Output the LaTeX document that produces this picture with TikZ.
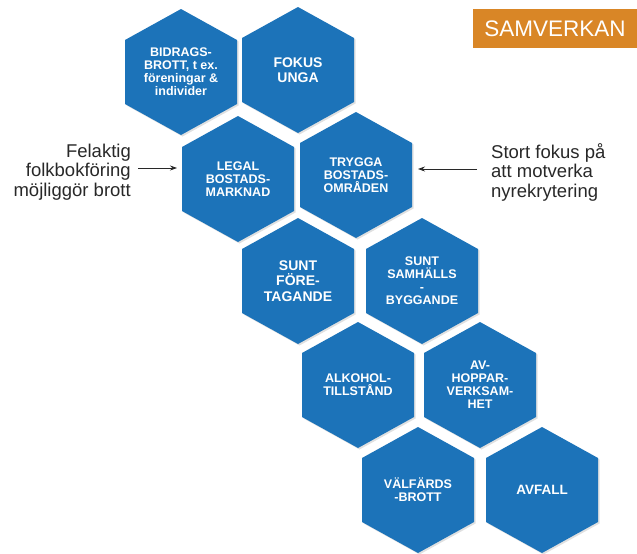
\documentclass[tikz,border=0pt]{standalone}
\usepackage{fontspec}
\setmainfont{Liberation Sans}
\usetikzlibrary{arrows.meta}
\definecolor{hexblue}{RGB}{28,115,185}
\definecolor{samorange}{RGB}{217,134,38}
\definecolor{sidegray}{RGB}{40,40,40}
\tikzset{
  hexfill/.style={fill=hexblue},
  hexshadow/.style={fill=black,opacity=0.12},
  hextext/.style={text=white,font=\bfseries\fontsize{12.5}{13}\selectfont,align=center,inner sep=0pt},
  hexbig/.style={font=\bfseries\fontsize{14}{15.5}\selectfont},
  sidetext/.style={text=sidegray,font=\fontsize{18.5}{19.5}\selectfont,inner sep=0pt},
  arr/.style={draw=sidegray,line width=0.8pt,-{Stealth[length=7pt,width=5pt]}},
}
\newcommand\hexcell[5][]{%
  \fill[hexshadow] (#3-56+1.5,#4-32+1.5) -- (#3+1.5,#4-63+1.5) -- (#3+56+1.5,#4-32+1.5) -- (#3+56+1.5,#4+32+1.5) -- (#3+1.5,#4+63+1.5) -- (#3-56+1.5,#4+32+1.5) -- cycle;
  \fill[hexfill] (#3-56,#4-32) -- (#3,#4-63) -- (#3+56,#4-32) -- (#3+56,#4+32) -- (#3,#4+63) -- (#3-56,#4+32) -- cycle;
  \node[hextext,#1] (#2) at (#3,#4) {#5};
}
\begin{document}
\begin{tikzpicture}[x=1pt,y=-1pt]
\useasboundingbox (0,0) rectangle (637,554);
% row 1
\hexcell{bidrag}{181}{72}{BIDRAGS-\\BROTT, t ex.\\föreningar \&\\individer}
\hexcell[hexbig]{fokus}{298}{70}{FOKUS\\UNGA}
% row 2
\hexcell{legal}{238}{179}{LEGAL\\BOSTADS-\\MARKNAD}
\hexcell{trygga}{356}{175}{TRYGGA\\BOSTADS-\\OMRÅDEN}
% row 3
\hexcell[hexbig]{sunt}{298}{281}{SUNT\\FÖRE-\\TAGANDE}
\hexcell{samh}{422}{281}{SUNT\\SAMHÄLLS\\-\\BYGGANDE}
% row 4
\hexcell{alko}{358}{385}{ALKOHOL-\\TILLSTÅND}
\hexcell{avhopp}{480}{385}{AV-\\HOPPAR-\\VERKSAM-\\HET}
% row 5
\hexcell{valf}{418}{490}{VÄLFÄRDS\\-BROTT}
\hexcell[font=\bfseries\fontsize{13.5}{15}\selectfont]{avfall}{542}{490}{AVFALL}
% SAMVERKAN
\node[fill=samorange,text=white,font=\fontsize{22.5}{24}\selectfont,minimum width=164pt,minimum height=39pt,inner sep=0pt] (samv) at (555,28.5) {SAMVERKAN};
% side texts
\node[sidetext,align=right,anchor=east] (felaktig) at (131,172) {Felaktig\\folkbokföring\\möjliggör brott};
\node[sidetext,align=left,anchor=west] (stort) at (491,172) {Stort fokus på\\att motverka\\nyrekrytering};
\coordinate (a1s) at (138,168);
\coordinate (a1e) at (177,168);
\coordinate (a2s) at (477,169);
\coordinate (a2e) at (418,169);
\draw[arr] (a1s) -- (a1e);
\draw[arr] (a2s) -- (a2e);
\end{tikzpicture}
\end{document}
